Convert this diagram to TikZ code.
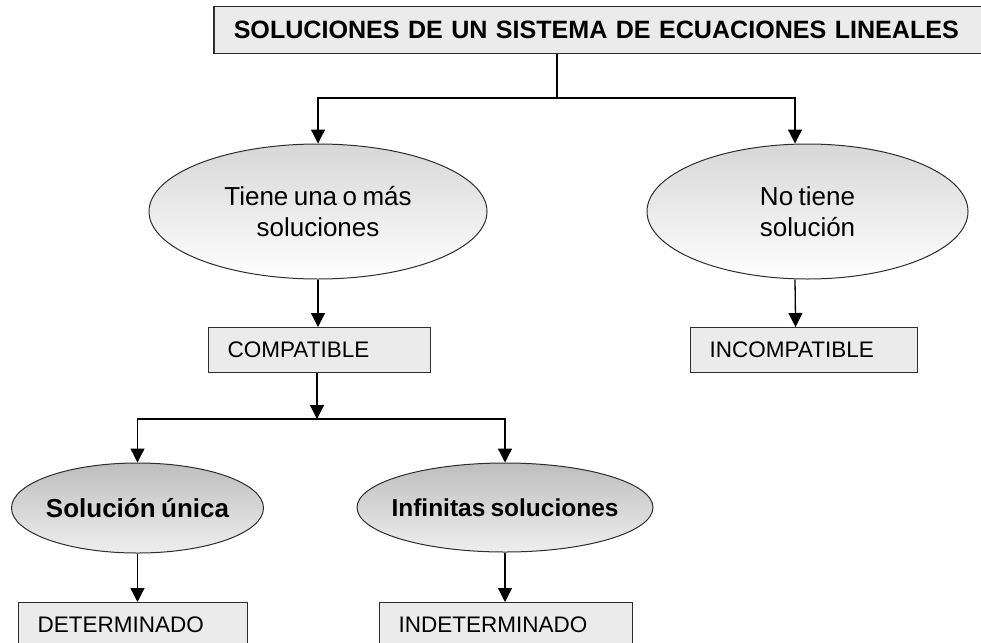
\documentclass[tikz,border=0pt]{standalone}
\usepackage{fontspec}
\setmainfont{Liberation Sans}[WordSpace=0.75]
\usetikzlibrary{arrows.meta,shapes.geometric,calc}
\definecolor{boxfill}{RGB}{235,235,235}
\definecolor{edgegray}{RGB}{45,45,45}
\definecolor{ovaltop}{RGB}{215,215,215}
\definecolor{smalltop}{RGB}{190,190,190}
\definecolor{smallbottom}{RGB}{238,238,238}
\newcommand{\fsz}[2]{\fontsize{#1}{#2}\selectfont}

\begin{document}
\begin{tikzpicture}[x=1pt,y=-1pt,
  box/.style={draw=edgegray,fill=boxfill,line width=1.2pt,minimum height=45pt,
    inner xsep=19pt,inner ysep=0pt,align=left,anchor=north west,font=\fsz{22.5}{26}},
  headbox/.style={box,line width=1.5pt,minimum height=47pt,inner xsep=20pt,
    font=\bfseries\fsz{25.1}{29}},
  bigoval/.style={ellipse,draw=edgegray,line width=1pt,top color=ovaltop,
    bottom color=white,inner sep=0pt,align=center,font=\fsz{26}{31}},
  smalloval/.style={ellipse,draw=edgegray,line width=1pt,top color=smalltop,
    bottom color=smallbottom,inner xsep=-20pt,inner ysep=0pt,font=\bfseries\fsz{26}{29}},
  link/.style={line width=1.3pt,draw=black},
  arr/.style={link,-{Triangle[width=14pt,length=14pt]}}]
  \path[use as bounding box,clip] (0,0) rectangle (981,642);

  % title
  \node[headbox,text width=800pt] (head) at (213,6) {SOLUCIONES DE UN SISTEMA DE ECUACIONES LINEALES};

  % first level
  \node[bigoval,minimum width=338pt,minimum height=135pt] (tiene) at (318,211.5) {Tiene una o más\\soluciones};
  \node[bigoval,minimum width=321pt,minimum height=135pt] (nosol) at (807.5,211.5) {No tiene\\solución};
  \node[box,text width=184pt] (compat) at (208,327) {COMPATIBLE};
  \node[box,text width=189pt] (incompat) at (690,327) {INCOMPATIBLE};

  % second level
  \node[smalloval,minimum width=252pt,minimum height=90pt] (unica) at (137.5,508) {Solución única};
  \node[smalloval,minimum width=296pt,minimum height=89pt,font=\bfseries\fsz{24.5}{29}] (infin) at (505,507.5) {Infinitas soluciones};
  \node[box,text width=191pt] (determ) at (18,602) {DETERMINADO};
  \node[box,text width=215pt] (indeterm) at (379,602) {INDETERMINADO};

  % connectors
  \coordinate (hj) at (557,98);
  \coordinate (cj) at (317,419);
  \draw[link] (head.south -| hj) -- (hj);
  \draw[arr] (hj) -| (tiene.north);
  \draw[arr] (hj) -| ([xshift=-12.5pt]nosol.north);
  \draw[arr] (tiene.south) -- (tiene.south |- compat.north);
  \draw[arr] ([xshift=-12.5pt]nosol.south) -- ([xshift=-8.5pt]incompat.north);
  \draw[arr] (compat.south -| cj) -- (cj);
  \draw[arr] (cj) -| (unica.north);
  \draw[arr] (cj) -| (infin.north);
  \draw[arr] (unica.south) -- (unica.south |- determ.north);
  \draw[arr] (infin.south) -- (infin.south |- indeterm.north);
\end{tikzpicture}
\end{document}
